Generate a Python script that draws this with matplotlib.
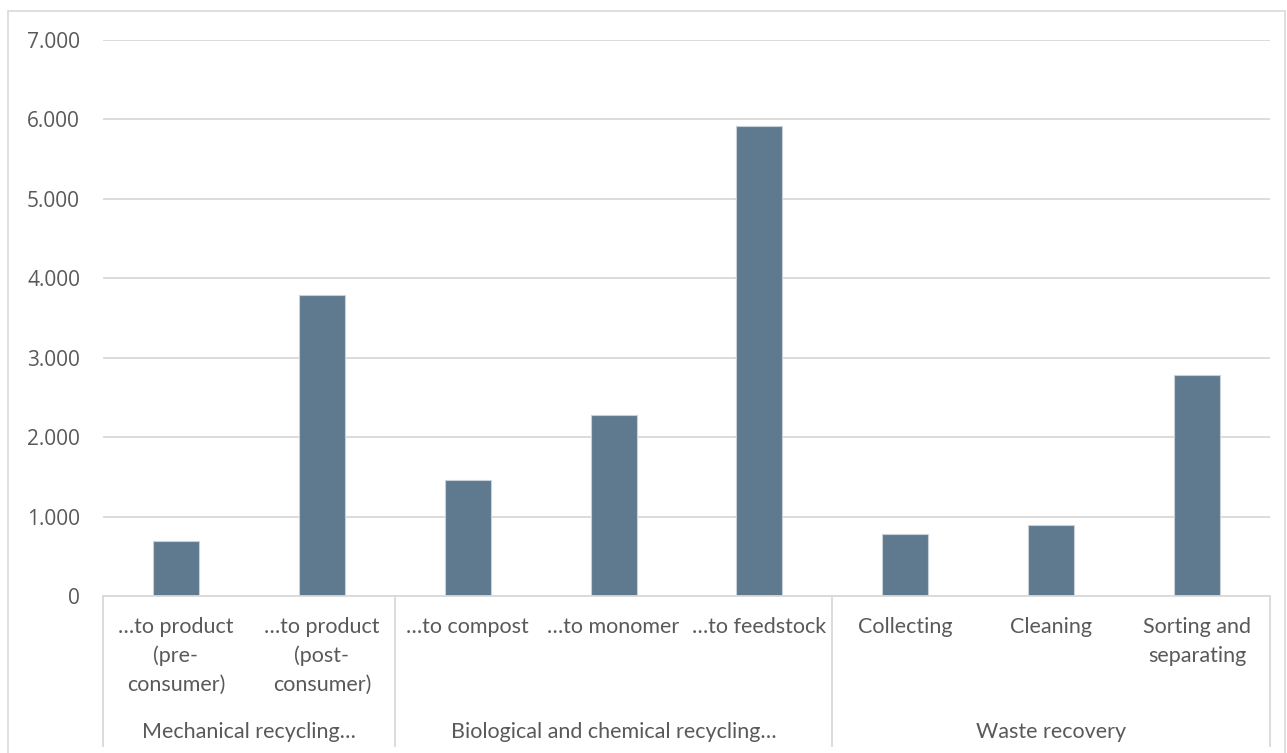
import matplotlib.pyplot as plt
from matplotlib.patches import Rectangle
from matplotlib.ticker import FuncFormatter

categories = ["…to product\n(pre-\nconsumer)", "…to product\n(post-\nconsumer)",
              "…to compost", "…to monomer", "…to feedstock",
              "Collecting", "Cleaning", "Sorting and\nseparating"]
values = [690, 3785, 1460, 2280, 5920, 780, 890, 2780]
groups = ["Mechanical recycling…", "Biological and chemical recycling…", "Waste recovery"]
group_sizes = [2, 3, 3]

W, H = 1287, 753
fig = plt.figure(figsize=(W / 100, H / 100), dpi=100)
left, right, top, bottom = 103, 1270, 40, 596
ax = fig.add_axes([left / W, (H - bottom) / H, (right - left) / W, (bottom - top) / H])

grid_c = "#D9D9D9"
text_c = "#595959"
lab_size = 15.5

# chart area border
fig.patches.append(Rectangle((8 / W, -0.02), (1285 - 8) / W, (H - 11) / H + 0.02,
                             transform=fig.transFigure, fill=False,
                             edgecolor=grid_c, lw=1.2))

x = list(range(len(values)))
ax.bar(x, values, width=0.315, color="#5F7A8F", edgecolor="#C9D1D8", lw=0.8, zorder=3)

ax.set_xlim(-0.5, len(values) - 0.5)
ax.set_ylim(0, 7000)
ax.set_yticks(range(0, 7001, 1000))
ax.yaxis.set_major_formatter(FuncFormatter(lambda v, p: f"{int(v):,}".replace(",", ".")))
ax.tick_params(axis="y", length=0, pad=16.5, labelsize=15, labelcolor=text_c)
for lab in ax.get_yticklabels():
    lab.set_family("Open Sans")
ax.set_xticks([])
ax.grid(axis="y", color=grid_c, lw=1.3, zorder=0)
for s in ["top", "right", "left"]:
    ax.spines[s].set_visible(False)
ax.spines["bottom"].set_color(grid_c)
ax.spines["bottom"].set_linewidth(1.3)
ax.spines["bottom"].set_zorder(4)

# two-level category axis
tr = ax.get_xaxis_transform()
ph = bottom - top
for i, c in enumerate(categories):
    for j, line in enumerate(c.split("\n")):
        ax.text(i, -(627 + 29 * j - bottom) / ph, line, transform=tr,
                ha="center", va="center", fontsize=lab_size, color=text_c, family="Lato")

start = -0.5
seps = [start]
for g, n in zip(groups, group_sizes):
    ax.text(start + n / 2, -(732 - bottom) / ph, g, transform=tr, ha="center", va="center",
            fontsize=lab_size, color=text_c, family="Lato")
    start += n
    seps.append(start)
for s in seps:
    ax.plot([s, s], [0, -(746 - bottom) / ph], transform=tr, color=grid_c,
            lw=1.3, clip_on=False)

fig.savefig("out.png", dpi=100)
